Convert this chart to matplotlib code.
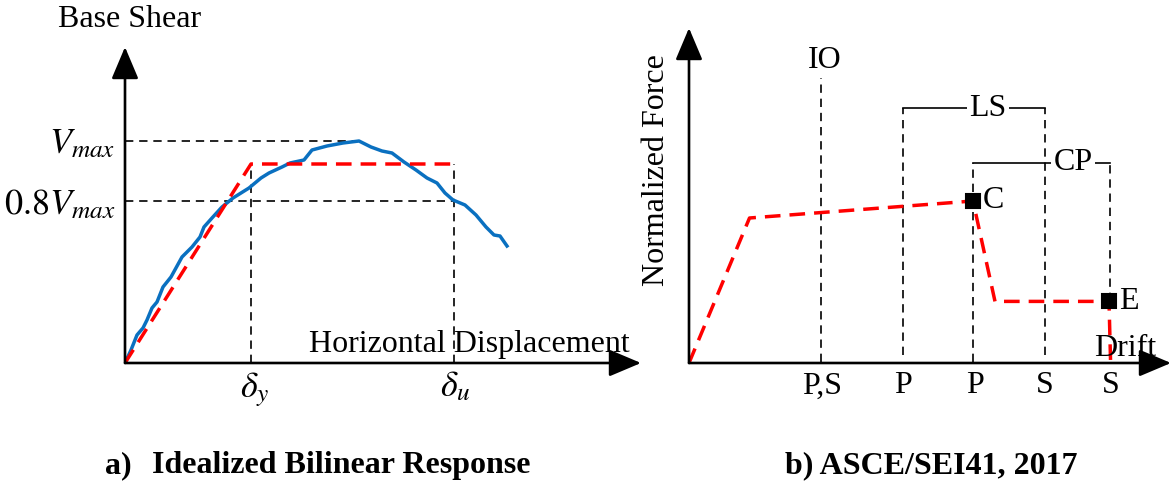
import matplotlib
matplotlib.use("Agg")
import matplotlib.pyplot as plt

plt.rcParams['font.family'] = ['Liberation Serif', 'DejaVu Serif']
plt.rcParams['mathtext.fontset'] = 'stix'

# ---------------- data: panel a (displacement, base shear in arbitrary units)
curve_x = [0, 6, 12, 18, 22, 27, 32, 38, 46, 57, 67, 75, 79, 87, 97, 108, 124, 136, 144,
           157, 165, 179, 187, 202, 218, 234, 246, 257, 267, 279, 291, 302, 312, 320, 328,
           340, 351, 361, 369, 375, 382]
curve_y = [0, 13, 28, 35, 43, 55, 61, 76, 86, 106, 116, 126, 136, 145, 156, 165, 175, 185, 190,
           196, 200, 203, 213, 217, 220, 222, 216, 212, 210, 201, 193, 185, 180, 170, 163,
           158, 148, 136, 128, 127, 117]
v_max = 222
v_08 = 162
v_yield = 199
d_y = 126
d_u = 329
d_peak = 234
bilinear_x = [0, d_y, d_u]
bilinear_y = [0, v_yield, v_yield]
a_ytick_vals = [v_08, v_max]
a_ytick_labels = [r'$0.8V_{max}$', r'$V_{max}$']
a_xtick_vals = [d_y + 4, d_u + 1]
a_xtick_labels = [r'$\delta_y$', r'$\delta_u$']

# ---------------- data: panel b (drift, normalized force)
backbone_x = [0, 60.5, 284, 306, 420, 421.6]
backbone_y = [0, 145, 162, 61.6, 61.6, 0]
point_names = ['C', 'E']
point_x = [284, 420]
point_y = [162, 61.6]
io_x = 131.5
ls_x = [214, 355.5]
cp_x = [284, 420.6]
io_top = 285
ls_level = 255
cp_level = 200
b_xtick_vals = [133, 214, 285.5, 355.5, 421.6]
b_xtick_labels = ['P,S', 'P', 'P', 'S', 'S']

W, H = 1173, 488
fig = plt.figure(figsize=(W / 100, H / 100), dpi=100)

FS = 23
MFS = 26
red_kw = dict(color='#ff0000', lw=2.5, dashes=(4.5, 2.6))
blk_kw = dict(color='black', lw=1.2, dashes=(5, 3.5))
arrow_kw = dict(arrowstyle='-|>,head_length=0.9,head_width=0.38', lw=1.9, color='black',
                mutation_scale=22, shrinkA=0, shrinkB=0)


def make_axes(x0, y0, x1, y1):
    ax = fig.add_axes([x0 / W, (H - y0) / H, (x1 - x0) / W, (y0 - y1) / H])
    ax.set_xlim(0, x1 - x0)
    ax.set_ylim(0, y0 - y1)
    for s in ax.spines.values():
        s.set_visible(False)
    ax.set_xticks([])
    ax.set_yticks([])
    ax.patch.set_alpha(0)
    ax.annotate('', xy=(1, 0), xytext=(0, 0), xycoords='axes fraction', arrowprops=arrow_kw)
    ax.annotate('', xy=(0, 1), xytext=(0, 0), xycoords='axes fraction', arrowprops=arrow_kw)
    return ax


# ---------------- panel a
ax1 = make_axes(125, 363, 641, 47)
ax1.plot([0, d_peak], [v_max, v_max], **blk_kw)
ax1.plot([0, d_u], [v_08, v_08], **blk_kw)
ax1.plot([d_y, d_y], [0, v_yield], **blk_kw)
ax1.plot([d_u, d_u], [0, v_yield], **blk_kw)
ax1.plot(curve_x, curve_y, color='#0a70c0', lw=2.5, solid_joinstyle='round')
ax1.plot(bilinear_x, bilinear_y, **red_kw)
ax1.set_yticks(a_ytick_vals, a_ytick_labels, fontsize=MFS)
ax1.set_xticks(a_xtick_vals, a_xtick_labels, fontsize=MFS)
ax1.tick_params(axis='y', length=0, pad=7)
ax1.tick_params(axis='x', length=0, pad=5)
ax1.text(-67, 343, 'Base Shear', fontsize=FS, ha='left', va='center', clip_on=False)
ax1.text(505, 11, 'Horizontal Displacement', fontsize=FS, ha='right', va='baseline',
         clip_on=False)

# ---------------- panel b
ax2 = make_axes(689, 363, 1171, 28)
ax2.plot([io_x, io_x], [1.5, io_top], **blk_kw)
for xv in ls_x:
    ax2.plot([xv, xv], [8, ls_level], **blk_kw)
ax2.plot([cp_x[0], cp_x[0]], [1.5, cp_level], **blk_kw)
ax2.plot([cp_x[1], cp_x[1]], [point_y[1], cp_level], **blk_kw)
ax2.plot(ls_x, [ls_level, ls_level], color='black', lw=1.2)
ax2.plot(cp_x, [cp_level, cp_level], color='black', lw=1.2)
ax2.plot(backbone_x, backbone_y, **red_kw)
ax2.plot(point_x, point_y, 's', color='black', ms=10, mec='black', mew=1.5, ls='none')
for nm, xv, yv in zip(point_names, point_x, point_y):
    ax2.text(xv + 10, yv, nm, fontsize=FS, ha='left', va='center')
ax2.text(io_x + 4, 303, 'IO', fontsize=FS, ha='center', va='center')
ax2.text((ls_x[0] + ls_x[1]) / 2 + 14, ls_level, 'LS', fontsize=FS, ha='center', va='center',
         bbox=dict(facecolor='white', edgecolor='none', pad=1.5))
ax2.text(384, cp_level, 'CP', fontsize=FS, ha='center', va='center',
         bbox=dict(facecolor='white', edgecolor='none', pad=1.5))
ax2.text(436, 14, 'Drift', fontsize=FS, ha='center', va='center', clip_on=False)
ax2.text(-32, 193, 'Normalized Force', fontsize=FS, ha='center', va='center',
         rotation=90, clip_on=False)
ax2.set_xticks(b_xtick_vals, b_xtick_labels, fontsize=FS)
ax2.tick_params(axis='x', length=0, pad=6)

# ---------------- captions
fig.text(105 / W, (H - 466) / H, 'a)', fontsize=FS, fontweight='bold', ha='left', va='center')
fig.text(152 / W, (H - 466) / H, 'Idealized Bilinear Response', fontsize=FS,
         fontweight='bold', ha='left', va='center')
fig.text(785 / W, (H - 466) / H, 'b) ASCE/SEI41, 2017', fontsize=FS, fontweight='bold',
         ha='left', va='center')

fig.savefig('out.png', dpi=100)
